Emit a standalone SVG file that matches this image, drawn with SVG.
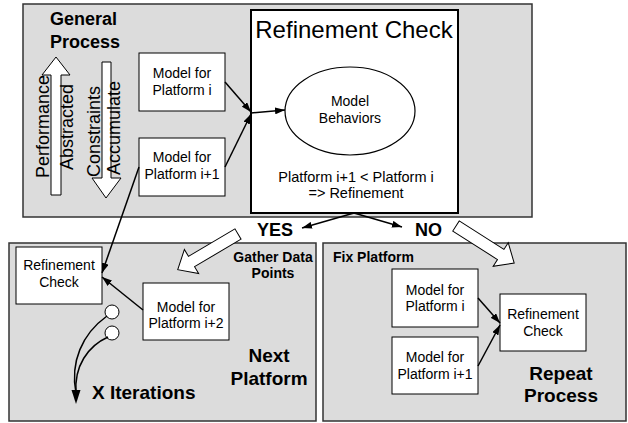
<svg xmlns="http://www.w3.org/2000/svg" width="628" height="423" viewBox="0 0 628 423">
<style>
.panel{fill:#dcdcdc;stroke:#333;stroke-width:1.5}
.box{fill:#fff;stroke:#000;stroke-width:1}
.t{font-family:"Liberation Sans",Arial,sans-serif;fill:#000}
.b{font-weight:bold}
.c{text-anchor:middle}
.ln{fill:none;stroke:#000;stroke-width:1.5}
.blk{fill:#fff;stroke:#000;stroke-width:1}
</style>
<defs>
<marker id="ah" markerUnits="userSpaceOnUse" markerWidth="10" markerHeight="7" refX="10" refY="3.5" orient="auto">
<path d="M0,0 L10,3.5 L0,7 z" fill="#000"/>
</marker>
</defs>

<g id="panel-general">
<rect class="panel" x="23" y="4" width="509" height="213"/>
<text class="t b" x="50" y="25" font-size="18">General</text>
<text class="t b" x="50" y="48" font-size="18">Process</text>
</g>

<g id="arrow-performance">
<path class="blk" d="M51,195 L51,75 L42,75 L56,57 L70,75 L61,75 L61,195 Z"/>
<text class="t" font-size="18" transform="translate(49,178) rotate(-90)">Performance</text>
<text class="t" font-size="18" transform="translate(73,170) rotate(-90)">Abstracted</text>
</g>

<g id="arrow-constraints">
<path class="blk" d="M102,62 L111,62 L111,178 L121,178 L106,198 L92,178 L102,178 Z"/>
<text class="t" font-size="18" transform="translate(100,177) rotate(-90)">Constraints</text>
<text class="t" font-size="18" transform="translate(120,175) rotate(-90)">Accumulate</text>
</g>

<g id="refinement-check-main">
<rect x="251" y="10" width="207" height="203" fill="#fff" stroke="#000" stroke-width="2"/>
<text class="t c" x="354" y="38" font-size="24">Refinement Check</text>
<text class="t c" x="356" y="182" font-size="14.5">Platform i+1 &lt; Platform i</text>
<text class="t c" x="356" y="198" font-size="14.5">=&gt; Refinement</text>
</g>

<g id="model-behaviors">
<ellipse cx="350" cy="111" rx="65" ry="44" fill="#fff" stroke="#000" stroke-width="1.2"/>
<text class="t c" x="350" y="106" font-size="14">Model</text>
<text class="t c" x="350" y="123" font-size="14">Behaviors</text>
</g>

<g id="model-i-top">
<rect class="box" x="139" y="53" width="86" height="58"/>
<text class="t c" x="182" y="78" font-size="14">Model for</text>
<text class="t c" x="182" y="95" font-size="14">Platform i</text>
</g>

<g id="model-i1-top">
<rect class="box" x="139" y="138" width="86" height="58"/>
<text class="t c" x="182" y="162" font-size="14">Model for</text>
<text class="t c" x="182" y="179" font-size="14">Platform i+1</text>
</g>

<g id="panel-next">
<rect class="panel" x="9" y="243" width="307" height="178"/>
<text class="t b c" x="273" y="262" font-size="14">Gather Data</text>
<text class="t b c" x="273" y="278" font-size="14">Points</text>
<text class="t b c" x="269" y="362" font-size="19">Next</text>
<text class="t b c" x="269" y="385" font-size="19">Platform</text>
<text class="t b" x="92" y="399" font-size="19">X Iterations</text>
</g>

<g id="rc-left">
<rect class="box" x="16" y="247" width="86" height="57"/>
<text class="t c" x="59" y="270" font-size="14">Refinement</text>
<text class="t c" x="59" y="287" font-size="14">Check</text>
</g>

<g id="model-i2">
<rect class="box" x="143" y="283" width="86" height="57"/>
<text class="t c" x="186" y="312" font-size="14">Model for</text>
<text class="t c" x="186" y="328" font-size="14">Platform i+2</text>
</g>

<g id="iter-circles">
<circle cx="112" cy="312" r="7" fill="#fff" stroke="#000" stroke-width="1"/>
<circle cx="112" cy="333" r="7" fill="#fff" stroke="#000" stroke-width="1"/>
</g>

<g id="panel-fix">
<rect class="panel" x="323" y="243" width="303" height="178"/>
<text class="t b" x="333" y="262" font-size="14">Fix Platform</text>
<text class="t b c" x="561" y="380" font-size="19">Repeat</text>
<text class="t b c" x="561" y="402" font-size="19">Process</text>
</g>

<g id="model-i-right">
<rect class="box" x="392" y="269" width="86" height="58"/>
<text class="t c" x="435" y="295" font-size="14">Model for</text>
<text class="t c" x="435" y="311" font-size="14">Platform i</text>
</g>

<g id="model-i1-right">
<rect class="box" x="392" y="337" width="86" height="57"/>
<text class="t c" x="435" y="362" font-size="14">Model for</text>
<text class="t c" x="435" y="379" font-size="14">Platform i+1</text>
</g>

<g id="rc-right">
<rect class="box" x="500" y="294" width="86" height="57"/>
<text class="t c" x="543" y="319" font-size="14">Refinement</text>
<text class="t c" x="543" y="336" font-size="14">Check</text>
</g>

<g id="yes-no">
<text class="t b" x="257" y="236" font-size="18">YES</text>
<text class="t b" x="415" y="236" font-size="18">NO</text>
</g>

<g id="connectors">
<line class="ln" x1="225" y1="82" x2="251" y2="112" marker-end="url(#ah)"/>
<line class="ln" x1="225" y1="167" x2="251" y2="114" marker-end="url(#ah)"/>
<line class="ln" x1="251" y1="113" x2="285" y2="110" marker-end="url(#ah)"/>
<line class="ln" x1="139" y1="167" x2="102" y2="273" marker-end="url(#ah)"/>
<line class="ln" x1="143" y1="310" x2="102" y2="277" marker-end="url(#ah)"/>
<line class="ln" x1="354" y1="213" x2="302" y2="228" marker-end="url(#ah)"/>
<line class="ln" x1="354" y1="213" x2="402" y2="227" marker-end="url(#ah)"/>
<line class="ln" x1="478" y1="298" x2="500" y2="323" marker-end="url(#ah)"/>
<line class="ln" x1="478" y1="366" x2="500" y2="325" marker-end="url(#ah)"/>
<path class="ln" d="M107,316 C82,334 70,362 76,393"/>
<path class="ln" d="M108,337 C88,346 74,366 76,393"/>
<polygon points="71.5,390 80.5,390 76,404" fill="#000"/>
<path class="blk" transform="translate(238,234) rotate(149.4)" d="M0,-6 L54,-6 L54,-14 L70,0 L54,14 L54,6 L0,6 Z"/>
<path class="blk" transform="translate(456,226) rotate(32.5)" d="M0,-6 L53,-6 L53,-14 L69,0 L53,14 L53,6 L0,6 Z"/>
</g>
</svg>
